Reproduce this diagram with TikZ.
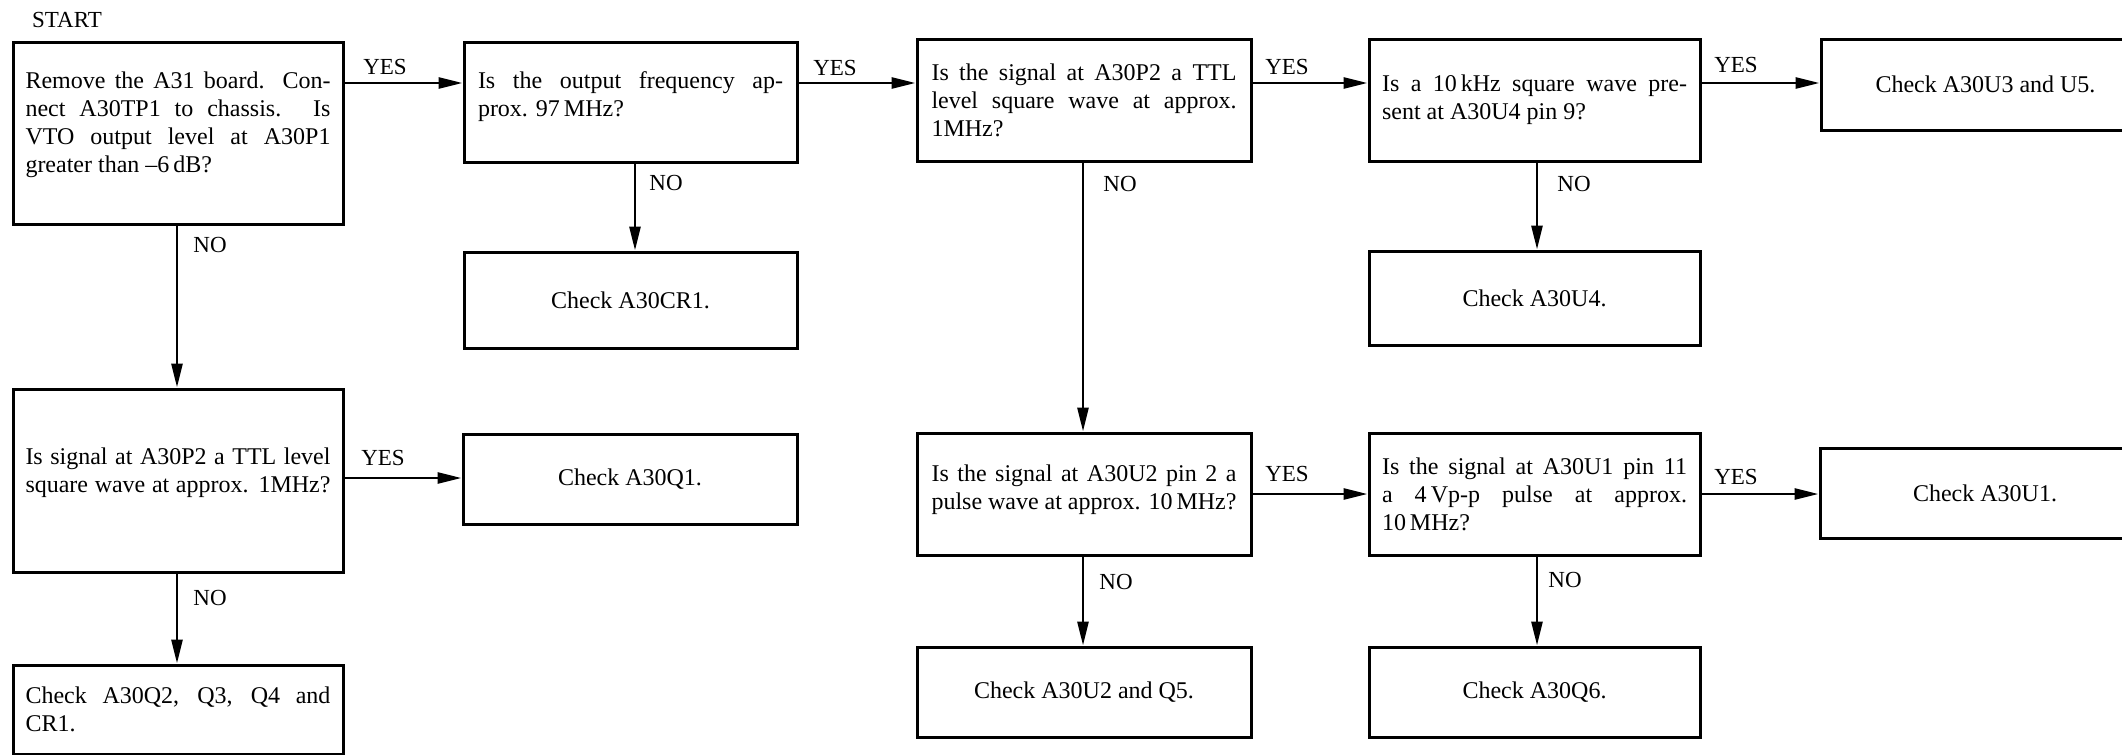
\documentclass[tikz,border=0pt]{standalone}
\usepackage{fontspec}
\setmainfont{Liberation Serif}
\usetikzlibrary{arrows.meta}
\newcommand\jl[1]{\hbox to\hsize{#1}}
\newcommand\nl[1]{\hbox{#1}}
\newcommand\qlines[1]{\vbox{\hsize=152.5pt\baselineskip=14pt\lineskiplimit=-10pt #1}}
\begin{document}
\begin{tikzpicture}[x=0.5pt,y=-0.5pt,
  box/.style={draw, line width=1.5pt, inner sep=0pt, font=\fontsize{12}{14}\selectfont},
  arr/.style={line width=1.4pt, -{Triangle[length=12pt,width=5.5pt]}},
  lab/.style={font=\fontsize{11.5}{13}\selectfont, inner sep=0pt}]
\useasboundingbox (0,0) rectangle (2122,755);
\fill[white] (0,0) rectangle (2122,755);
\clip (0,0) rectangle (2122,755);
% rows and columns of connectors
\coordinate (r1) at (0,83);
\coordinate (r2) at (0,478);
\coordinate (r3) at (0,494);
\coordinate (c1) at (177,0);
\coordinate (c2) at (635,0);
\coordinate (c3) at (1083,0);
\coordinate (c4) at (1537,0);
% boxes
\node[box, minimum width=165pt, minimum height=91pt] (A) at (178,133)
  {\qlines{\jl{Remove the A31 board. Con-}\jl{nect A30TP1 to chassis. Is}\jl{VTO output level at A30P1}\nl{greater than –6\,dB?}\kern8pt}};
\node[box, minimum width=166.5pt, minimum height=60pt] (B) at (630.5,102)
  {\qlines{\jl{Is the output frequency ap-}\nl{prox. 97\,MHz?}\kern5pt}};
\node[box, minimum width=166.5pt, minimum height=48pt] (CR1) at (630.5,300) {Check A30CR1.};
\node[box, minimum width=167pt, minimum height=61pt] (C) at (1084,100)
  {\qlines{\jl{Is the signal at A30P2 a TTL}\jl{level square wave at approx.}\nl{1MHz?}}};
\node[box, minimum width=165.5pt, minimum height=61pt] (D) at (1534.5,100)
  {\qlines{\jl{Is a 10\,kHz square wave pre-}\nl{sent at A30U4 pin 9?}}};
\node[box, minimum width=164.5pt, minimum height=45.5pt] (E) at (1985.5,84.5) {Check A30U3 and U5.};
\node[box, minimum width=165.5pt, minimum height=47pt] (U4) at (1534.5,298) {Check A30U4.};
\node[box, minimum width=165pt, minimum height=91.5pt] (G) at (178,480.5)
  {\qlines{\jl{Is signal at A30P2 a TTL level}\jl{square wave at approx. 1MHz?}\kern8pt}};
\node[box, minimum width=167pt, minimum height=45pt] (Q1) at (630,479) {Check A30Q1.};
\node[box, minimum width=165pt, minimum height=44.5pt] (H) at (178,709.5)
  {\qlines{\jl{Check A30Q2, Q3, Q4 and}\nl{CR1.}}};
\node[box, minimum width=167pt, minimum height=61pt] (F) at (1084,494)
  {\qlines{\jl{Is the signal at A30U2 pin 2 a}\jl{pulse wave at approx. 10\,MHz?}\kern4pt}};
\node[box, minimum width=167pt, minimum height=45pt] (U2) at (1084,692) {Check A30U2 and Q5.};
\node[box, minimum width=165.5pt, minimum height=61pt] (I) at (1534.5,494)
  {\qlines{\jl{Is the signal at A30U1 pin 11}\jl{a 4\,Vp-p pulse at approx.}\nl{10\,MHz?}}};
\node[box, minimum width=165.5pt, minimum height=45pt] (Q6) at (1534.5,692) {Check A30Q6.};
\node[box, minimum width=165pt, minimum height=45pt] (J) at (1985,493) {Check A30U1.};
% labels
\node[lab] (start) at (67,20) {START};
\node[lab] (y1) at (385,67) {YES};
\node[lab] (y2) at (835,68) {YES};
\node[lab] (y3) at (1287,67) {YES};
\node[lab] (y4) at (1736,65) {YES};
\node[lab] (y5) at (383,458) {YES};
\node[lab] (y6) at (1287,474) {YES};
\node[lab] (y7) at (1736,477) {YES};
\node[lab, anchor=west] (n1) at (193,245) {NO};
\node[lab, anchor=west] (n2) at (649,183) {NO};
\node[lab, anchor=west] (n3) at (1103,184) {NO};
\node[lab, anchor=west] (n4) at (1557,184) {NO};
\node[lab, anchor=west] (n5) at (193,598) {NO};
\node[lab, anchor=west] (n6) at (1099,582) {NO};
\node[lab, anchor=west] (n7) at (1548,580) {NO};
% connectors
\draw[arr] (A.east|-r1) -- (B.west|-r1);
\draw[arr] (B.east|-r1) -- (C.west|-r1);
\draw[arr] (C.east|-r1) -- (D.west|-r1);
\draw[arr] (D.east|-r1) -- (E.west|-r1);
\draw[arr] (G.east|-r2) -- (Q1.west|-r2);
\draw[arr] (F.east|-r3) -- (I.west|-r3);
\draw[arr] (I.east|-r3) -- (J.west|-r3);
\draw[arr] (A.south-|c1) -- (G.north-|c1);
\draw[arr] (G.south-|c1) -- (H.north-|c1);
\draw[arr] (B.south-|c2) -- (CR1.north-|c2);
\draw[arr] (C.south-|c3) -- (F.north-|c3);
\draw[arr] (F.south-|c3) -- (U2.north-|c3);
\draw[arr] (D.south-|c4) -- (U4.north-|c4);
\draw[arr] (I.south-|c4) -- (Q6.north-|c4);
\end{tikzpicture}
\end{document}
